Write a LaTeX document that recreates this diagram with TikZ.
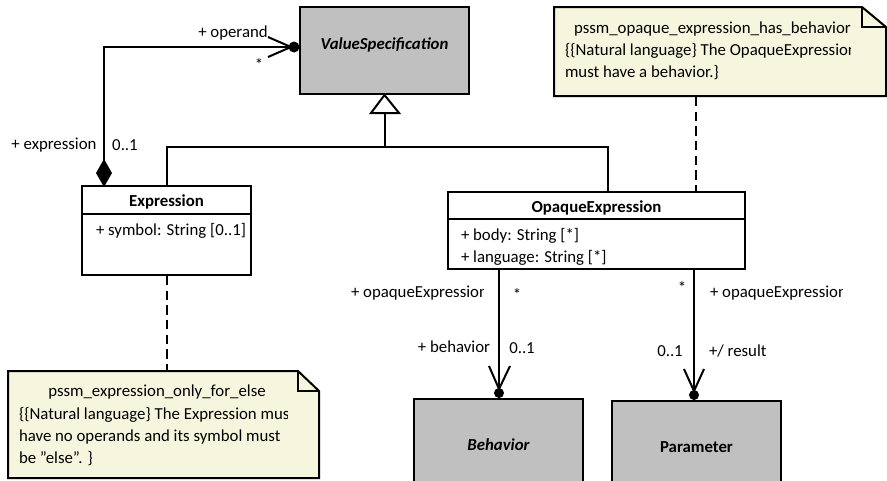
\documentclass[tikz,border=0pt]{standalone}
\usepackage{fontspec}
\setmainfont{Carlito}
\usetikzlibrary{fit,calc}
\definecolor{clsgray}{RGB}{192,192,192}
\definecolor{notefill}{RGB}{246,246,222}
\begin{document}
\begin{tikzpicture}[x=0.75pt,y=-0.75pt,line width=1.5pt,
  font=\fontsize{12.6}{15}\selectfont,
  cls/.style={draw, fill=white, inner sep=0pt},
  abscls/.style={draw, fill=clsgray, inner sep=0pt},
  notebox/.style={draw, fill=notefill, line join=miter},
  lbl/.style={inner sep=0pt},
  dashline/.style={dashed, dash pattern=on 7pt off 4pt}]
\useasboundingbox (0,0) rectangle (887,480);

% classes
\node[abscls, fit={(300,7)(469,94)}] (vs) {\bfseries\itshape ValueSpecification};
\node[cls, fit={(82,186)(251,275)}] (expr) {};
\draw ($(expr.north west)+(0,29)$) -- ($(expr.north east)+(0,29)$);
\node[lbl] (exprt) at (166.5,202) {\bfseries Expression};
\node[lbl, anchor=west] (expra) at (95,231) {+ symbol: String [0..1]};

\node[cls, fit={(448,192)(745,269)}] (opq) {};
\draw ($(opq.north west)+(0,28)$) -- ($(opq.north east)+(0,28)$);
\node[lbl] (opqt) at (596.5,208) {\bfseries OpaqueExpression};
\node[lbl, anchor=west] (opqa) at (460,236) {+ body: String [*]};
\node[lbl, anchor=west] (opqb) at (460,258) {+ language: String [*]};

\node[abscls, fit={(414,399)(583,492)}] (beh) {};
\node[lbl] (beht) at (498.5,445) {\bfseries\itshape Behavior};
\node[abscls, fit={(612,401)(781,492)}] (par) {};
\node[lbl] (part) at (696.5,447) {\bfseries Parameter};

% notes
\node[inner sep=0pt, fit={(8,371)(319,478)}] (note1) {};
\draw[notebox] (8,371) -- (298,371) -- (319,391) -- (319,478) -- (8,478) -- cycle;
\draw (298,371) -- (298,391) -- (319,391);
\begin{scope}
\clip (8,371) rectangle (287,478);
\node[lbl] (n1a) at (157,392) {pssm\_expression\_only\_for\_else};
\node[lbl, anchor=west] (n1b) at (18,415) {\{\{Natural language\} The Expression must};
\node[lbl, anchor=west] (n1c) at (18,437) {have no operands and its symbol must};
\node[lbl, anchor=west] (n1d) at (18,459) {be "else". \}};
\end{scope}

\node[inner sep=0pt, fit={(554,7)(887,96)}] (note2) {};
\draw[notebox] (554,7) -- (862,7) -- (886,27) -- (886,96) -- (554,96) -- cycle;
\draw (862,7) -- (862,27) -- (886,27);
\begin{scope}
\clip (554,7) rectangle (850,96);
\node[lbl, anchor=west] (n2a) at (573,29) {pssm\_opaque\_expression\_has\_behavior};
\node[lbl, anchor=west] (n2b) at (564,51) {\{\{Natural language\} The OpaqueExpression};
\node[lbl, anchor=west] (n2c) at (564,73) {must have a behavior.\}};
\end{scope}

% note connectors
\draw[dashline] (expr.south) -- (expr.south |- note1.north);
\coordinate (n2x) at (696,0);
\draw[dashline] (note2.south -| n2x) -- (opq.north -| n2x);

% generalization
\coordinate (gj) at (385,147);
\coordinate (gl) at (167,147);
\coordinate (gr) at (608,147);
\draw (expr.north -| gl) -- (gl) -- (gr) -- (opq.north -| gr);
\draw (gj) -- (385,113);
\draw[fill=white, line join=miter] (vs.south) -- (399,113) -- (371,113) -- cycle;

% operand association
\coordinate (ox) at (104,47);
\draw (104,170) -- (ox) -- (vs.west |- ox);
\fill (104,159) -- (112,173) -- (104,187) -- (96,173) -- cycle;
\fill (294,47) circle (5.5);
\draw (268,37) -- (291,47) -- (268,57);
\node[lbl] (l1) at (233,33) {+ operand};
\node[lbl] (l2) at (259,65) {*};
\node[lbl] (l3) at (54,145) {+ expression};
\node[lbl] (l4) at (125,145) {0..1};

% behavior association
\coordinate (bx) at (499,0);
\draw (opq.south -| bx) -- (beh.north -| bx);
\fill (499,393) circle (5);
\draw (489,366) -- (499,389) -- (510,366);
\begin{scope}
\clip (340,270) rectangle (483,310);
\node[lbl, anchor=west] (l5) at (350,293) {+ opaqueExpression};
\end{scope}
\node[lbl] (l6) at (517,295) {*};
\node[lbl, anchor=east] (l7) at (491,347) {+ behavior};
\node[lbl] (l8) at (522,348) {0..1};

% parameter association
\coordinate (px) at (694,0);
\draw (opq.south -| px) -- (par.north -| px);
\fill (694,395) circle (5);
\draw (684,369) -- (694,391) -- (704,369);
\node[lbl] (l9) at (682,288) {*};
\begin{scope}
\clip (700,270) rectangle (842,310);
\node[lbl, anchor=west] (l10) at (709,293) {+ opaqueExpression};
\end{scope}
\node[lbl] (l11) at (670,351) {0..1};
\node[lbl, anchor=west] (l12) at (708,351) {+/ result};
\end{tikzpicture}
\end{document}
